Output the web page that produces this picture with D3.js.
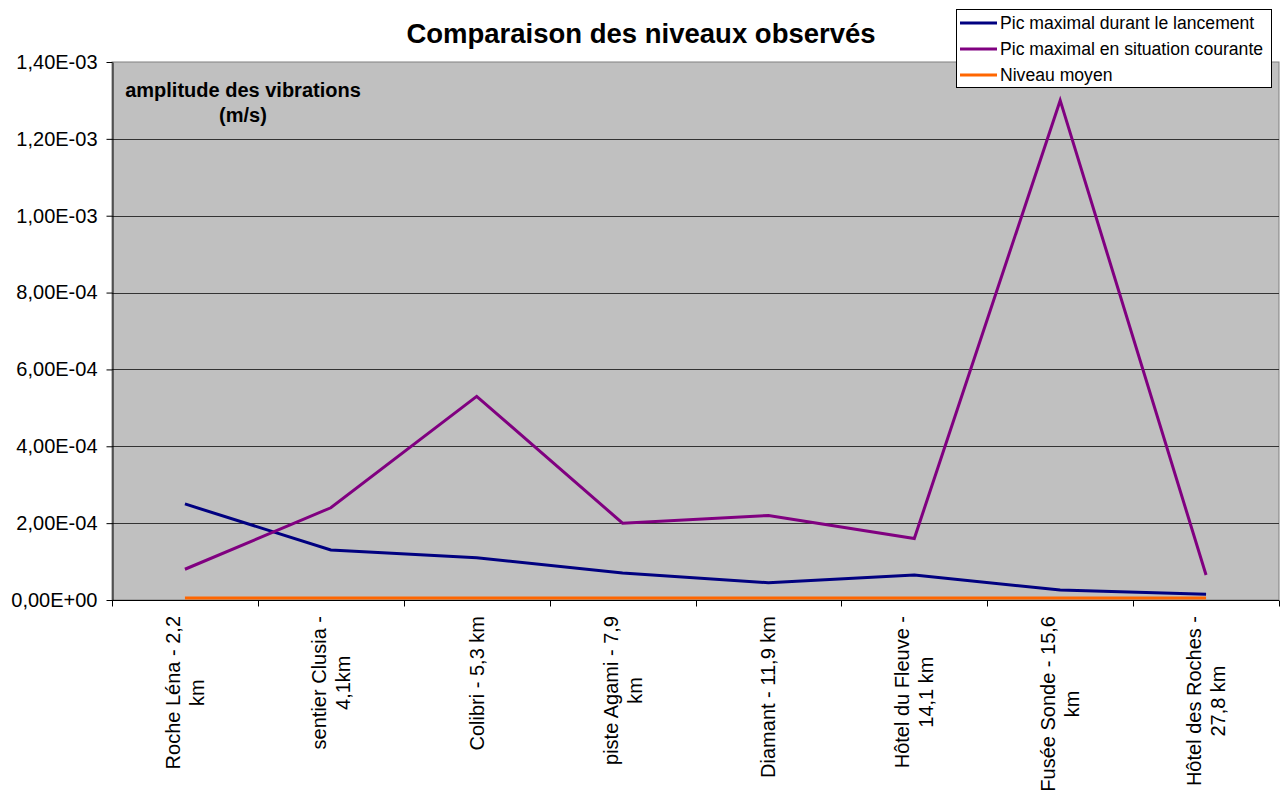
<!DOCTYPE html>
<html>
<head>
<meta charset="utf-8">
<script src="https://cdn.jsdelivr.net/npm/d3@7"></script>
<style>
  html, body { margin: 0; padding: 0; background: #fff; }
  svg { display: block; font-family: "Liberation Sans", Arial, sans-serif; }
</style>
</head>
<body>
<svg id="chart" width="1285" height="792"></svg>
<script>
// Measurement sites (label lines as wrapped on the axis)
const sites = [
  ["Roche Léna - 2,2", "km"],
  ["sentier Clusia -", "4,1km"],
  ["Colibri - 5,3 km"],
  ["piste Agami - 7,9", "km"],
  ["Diamant - 11,9 km"],
  ["Hôtel du Fleuve -", "14,1 km"],
  ["Fusée Sonde - 15,6", "km"],
  ["Hôtel des Roches -", "27,8 km"]
];

// Vibration amplitudes (m/s)
const picLancement = [2.5e-4, 1.3e-4, 1.1e-4, 7.0e-5, 4.5e-5, 6.5e-5, 2.6e-5, 1.5e-5];
const picCourant   = [8.0e-5, 2.4e-4, 5.3e-4, 2.0e-4, 2.2e-4, 1.6e-4, 1.3e-3, 6.5e-5];
const niveauMoyen  = [5e-6, 5e-6, 5e-6, 5e-6, 5e-6, 5e-6, 5e-6, 5e-6];

const yTicks = [0, 2e-4, 4e-4, 6e-4, 8e-4, 1.0e-3, 1.2e-3, 1.4e-3];

const seriesNames = [
  "Pic maximal durant le lancement",
  "Pic maximal en situation courante",
  "Niveau moyen"
];
const seriesColors = ["#000080", "#800080", "#FF6600"];
const seriesData = [picLancement, picCourant, niveauMoyen];

const svg = d3.select("#chart");
const plot = { left: 112, right: 1279, top: 62, bottom: 600 };

const x = d3.scaleBand()
  .domain(d3.range(sites.length))
  .range([plot.left, plot.right])
  .paddingInner(0).paddingOuter(0);

const y = d3.scaleLinear()
  .domain([0, 1.4e-3])
  .range([plot.bottom, plot.top]);

// French-style scientific notation: 1,40E-03
function sci(v) {
  const s = v.toExponential(2);
  const [m, e] = s.split("e");
  const sign = e[0] === "-" ? "-" : "+";
  const digits = e.replace(/[+-]/, "").padStart(2, "0");
  return m.replace(".", ",") + "E" + sign + digits;
}

// Plot background
svg.append("rect")
  .attr("x", plot.left).attr("y", plot.top)
  .attr("width", plot.right - plot.left).attr("height", plot.bottom - plot.top)
  .attr("fill", "#C0C0C0").attr("stroke", "#808080").attr("stroke-width", 1);

// Horizontal gridlines
svg.append("g")
  .selectAll("line")
  .data(yTicks.slice(1, -1))
  .join("line")
  .attr("x1", plot.left).attr("x2", plot.right)
  .attr("y1", d => Math.round(y(d)) + 0.5).attr("y2", d => Math.round(y(d)) + 0.5)
  .attr("stroke", "#333").attr("stroke-width", 1);

// Y axis
const yAxis = svg.append("g")
  .attr("transform", `translate(${plot.left + 0.5},0)`)
  .call(d3.axisLeft(y).tickValues(yTicks).tickFormat(sci).tickSize(6).tickSizeOuter(0));
yAxis.select(".domain").attr("stroke", "#000");
yAxis.selectAll(".tick line").attr("stroke", "#000");
yAxis.selectAll(".tick text")
  .attr("font-size", 20).attr("fill", "#000")
  .attr("font-family", "Liberation Sans, Arial, sans-serif")
  .attr("x", -15);

// X axis (ticks at category boundaries)
const xAxisG = svg.append("g").attr("transform", `translate(0,${plot.bottom + 0.5})`);
xAxisG.append("line")
  .attr("x1", plot.left).attr("x2", plot.right)
  .attr("stroke", "#000");
xAxisG.selectAll("line.tk")
  .data(d3.range(sites.length + 1))
  .join("line").attr("class", "tk")
  .attr("x1", i => Math.round(plot.left + i * x.bandwidth()) + 0.5)
  .attr("x2", i => Math.round(plot.left + i * x.bandwidth()) + 0.5)
  .attr("y1", 0).attr("y2", 6)
  .attr("stroke", "#000");

// Rotated category labels, longest line ending near the axis
const labelTop = 616;
const lineGap = 24;
sites.forEach((lines, i) => {
  const cx = x(i) + x.bandwidth() / 2;
  const g = svg.append("g");
  const texts = lines.map(t => g.append("text")
    .attr("font-size", 20).attr("fill", "#000")
    .attr("text-anchor", "middle")
    .text(t));
  const maxW = d3.max(texts, t => t.node().getComputedTextLength());
  const cy = labelTop + maxW / 2;
  const n = lines.length;
  texts.forEach((t, k) => {
    const off = (k - (n - 1) / 2) * lineGap;
    // shift by half the cap height so glyphs sit centred on the column
    t.attr("transform", `translate(${cx + off + 7},${cy}) rotate(-90)`);
  });
});

// Data lines
const line = d3.line()
  .x((d, i) => x(i) + x.bandwidth() / 2)
  .y(d => y(d));

seriesData.forEach((data, s) => {
  svg.append("path")
    .datum(data)
    .attr("d", line)
    .attr("fill", "none")
    .attr("stroke", seriesColors[s])
    .attr("stroke-width", 3)
    .attr("stroke-linejoin", "miter");
});

// Axis caption inside the plot
svg.append("text")
  .attr("x", 243).attr("y", 97)
  .attr("text-anchor", "middle")
  .attr("font-size", 20).attr("font-weight", "bold")
  .text("amplitude des vibrations");
svg.append("text")
  .attr("x", 243).attr("y", 122)
  .attr("text-anchor", "middle")
  .attr("font-size", 20).attr("font-weight", "bold")
  .text("(m/s)");

// Title
svg.append("text")
  .attr("x", 641).attr("y", 43)
  .attr("text-anchor", "middle")
  .attr("font-size", 27.5).attr("font-weight", "bold")
  .text("Comparaison des niveaux observés");

// Legend
const legend = svg.append("g");
legend.append("rect")
  .attr("x", 956.5).attr("y", 9.5)
  .attr("width", 315).attr("height", 78)
  .attr("fill", "#fff").attr("stroke", "#000").attr("stroke-width", 1);
const rowY = [23, 49, 75];
seriesNames.forEach((name, s) => {
  legend.append("line")
    .attr("x1", 960).attr("x2", 997)
    .attr("y1", rowY[s]).attr("y2", rowY[s])
    .attr("stroke", seriesColors[s]).attr("stroke-width", 3);
  legend.append("text")
    .attr("x", 1000).attr("y", rowY[s] + 6)
    .attr("font-size", 17.6)
    .text(name);
});
</script>
</body>
</html>
